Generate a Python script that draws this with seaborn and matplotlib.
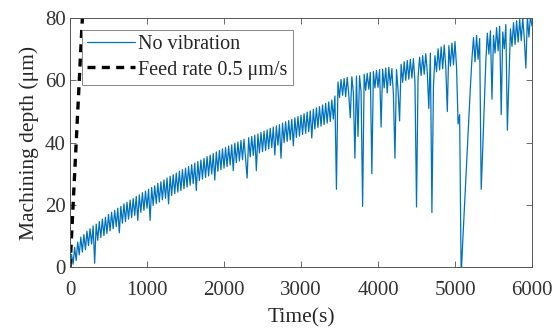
import numpy as np
import pandas as pd
import matplotlib
matplotlib.use('Agg')
import matplotlib.pyplot as plt
import seaborn as sns

# machining depth (um), one value every 20 s from 0 to 6000 s
depth_um = [
    0.2, 4.0, 0.9, 6.3, 2.1, 8.0, 3.9, 9.6, 4.8, 10.4, 5.6, 11.5, 6.9, 12.3, 7.4, 13.2, 1.2, 13.8, 8.6, 14.6, 9.5, 15.4, 10.1, 16.0, 10.8,
    16.9, 11.6, 17.6, 12.3, 18.2, 13.0, 18.9, 11.0, 19.5, 14.1, 20.3, 14.6, 20.8, 15.4, 21.5, 15.9, 22.0, 16.6, 22.7, 15.0, 23.2, 17.6, 23.9, 18.2, 24.4,
    18.9, 25.0, 15.0, 25.6, 19.8, 26.1, 20.4, 26.9, 20.9, 27.4, 21.6, 28.0, 22.1, 28.6, 20.3, 29.2, 23.0, 29.7, 23.6, 30.2, 24.1, 30.8, 24.6, 31.3, 25.2,
    31.8, 25.7, 32.3, 26.3, 32.9, 26.8, 33.4, 24.6, 33.9, 27.8, 34.4, 28.3, 34.9, 28.8, 35.5, 29.3, 36.0, 29.9, 36.5, 28.0, 37.0, 30.8, 37.5, 31.3, 38.0,
    31.8, 38.4, 32.3, 38.9, 32.8, 39.3, 31.0, 39.8, 33.6, 40.2, 34.1, 40.7, 34.5, 41.1, 35.0, 28.6, 41.6, 35.4, 42.0, 35.9, 42.4, 31.0, 42.8, 36.7, 43.3,
    37.1, 43.7, 37.5, 44.1, 38.0, 44.6, 38.4, 45.0, 36.0, 45.4, 39.2, 45.8, 35.0, 46.3, 40.0, 46.7, 40.4, 47.1, 40.9, 47.5, 39.0, 48.0, 41.7, 48.4, 42.1,
    48.8, 42.6, 49.3, 43.0, 49.8, 43.5, 50.2, 41.5, 50.7, 44.4, 51.2, 44.9, 51.6, 45.3, 52.1, 45.8, 52.6, 46.3, 53.1, 46.8, 53.7, 47.6, 55.0, 25.0, 59.5,
    54.5, 60.3, 55.2, 60.6, 54.8, 61.0, 55.6, 48.0, 61.2, 55.9, 35.0, 61.4, 42.0, 61.5, 56.3, 19.5, 62.0, 56.8, 62.3, 57.2, 62.6, 30.0, 62.9, 57.6, 63.2,
    57.8, 63.5, 45.0, 63.6, 57.6, 64.0, 56.0, 64.2, 58.4, 63.8, 55.5, 35.0, 63.5, 57.0, 47.0, 65.2, 59.4, 66.0, 60.0, 66.4, 60.4, 66.8, 60.8, 67.0, 59.5,
    19.3, 61.0, 67.5, 61.6, 68.0, 62.0, 68.6, 62.6, 51.0, 68.8, 17.5, 58.0, 68.0, 62.8, 70.2, 63.4, 70.8, 63.8, 71.4, 64.4, 50.0, 71.2, 64.6, 72.0, 65.0,
    72.5, 64.2, 46.0, 49.0, -3.0, 8.0, 18.0, 28.0, 38.0, 48.0, 58.0, 67.0, 73.8, 66.0, 74.5, 66.8, 73.5, 25.0, 38.0, 52.0, 66.0, 75.2, 68.5, 76.0, 54.0,
    74.5, 68.8, 77.0, 69.5, 77.4, 49.0, 75.6, 70.2, 78.0, 44.0, 60.0, 76.6, 71.0, 78.6, 71.6, 79.2, 72.3, 79.6, 72.8, 80.0, 73.4, 64.0, 80.5, 74.0, 80.8,
    77.5,
]
time_s = np.arange(0, 6001, 20)

# feed rate reference line 0.5 um/s
feed_time = [0, 160]
feed_depth = [0, 80]

x_ticks = [0, 1000, 2000, 3000, 4000, 5000, 6000]
y_ticks = [0, 20, 40, 60, 80]

df = pd.DataFrame({'time': time_s, 'depth': depth_um})
feed = pd.DataFrame({'time': feed_time, 'depth': feed_depth})

sns.set_theme(style='ticks')
plt.rcParams['font.family'] = ['Liberation Serif', 'DejaVu Serif']

fig = plt.figure(figsize=(5.54, 3.32), dpi=100)
ax = fig.add_axes([0.1264, 0.1958, 0.9603 - 0.1264, 0.9449 - 0.1958])

sns.lineplot(data=df, x='time', y='depth', ax=ax, color='#0072BD', lw=0.9,
             estimator=None, sort=False, label='No vibration')
sns.lineplot(data=feed, x='time', y='depth', ax=ax, color='black', lw=2.4,
             estimator=None, sort=False, label='Feed rate 0.5 \u03bcm/s')
ax.lines[-1].set_dashes([2.4, 1.9])

ax.set_xlim(0, 6000)
ax.set_ylim(0, 80)
ax.set_xticks(x_ticks)
ax.set_yticks(y_ticks)
ax.set_xlabel('Time(s)', fontsize=15.5, labelpad=6)
ax.set_ylabel('Machining depth (\u03bcm)', fontsize=15.5, labelpad=4)
ax.tick_params(direction='in', length=4, width=0.6, labelsize=15, colors='#555555',
               top=True, right=True, pad=3)
ax.tick_params(axis='x', pad=10)
ax.tick_params(axis='both', labelcolor='#333333')
for s in ax.spines.values():
    s.set_visible(True)
    s.set_linewidth(0.7)
    s.set_color('#555555')

leg = ax.legend(loc='upper left', bbox_to_anchor=(0.026, 0.952), fontsize=14.5,
                frameon=True, fancybox=False, framealpha=1, edgecolor='#888888',
                handlelength=2.4, handletextpad=0.15, borderpad=0.25,
                labelspacing=0.3, borderaxespad=0)
leg.get_frame().set_linewidth(0.7)
leg.get_lines()[1].set_dashes([2.4, 1.9])

fig.savefig('out.png', dpi=100)
